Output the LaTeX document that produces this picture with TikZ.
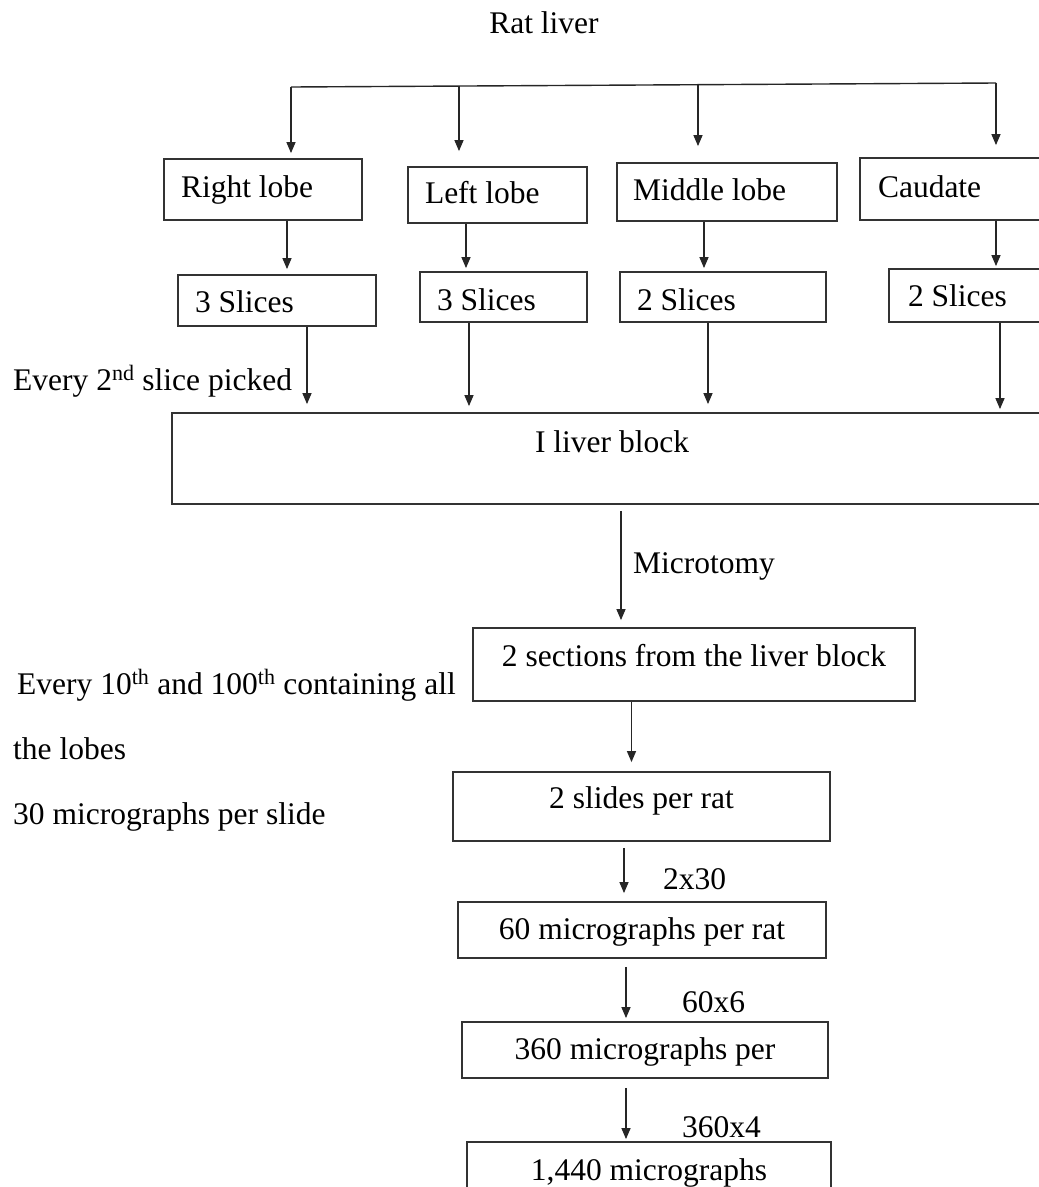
\documentclass[tikz,border=0pt]{standalone}
\usepackage{fontspec}
\setmainfont{Liberation Serif}
\usetikzlibrary{arrows.meta}
\tikzset{
  txt/.style={font=\fontsize{31.5}{36}\selectfont},
  box/.style={txt, draw=black!80, line width=1.8pt, inner xsep=0pt, inner ysep=0pt},
  lbox/.style={box, align=flush left},
  cbox/.style={box, align=center},
  lab/.style={txt, inner sep=0pt},
  ln/.style={draw=black!85, line width=1.4pt},
  arr/.style={ln, -{Triangle[length=11pt,width=9pt]}}
}
\begin{document}
\begin{tikzpicture}[x=1pt,y=-1pt]
\useasboundingbox (0,0) rectangle (1039,1187);
\clip (0,0) rectangle (1039,1187);

% title
\node[lab, anchor=base] (rat) at (544,33) {Rat liver};

% lobes
\node[lbox, text width=164pt, inner xsep=17pt, text height=38pt, text depth=23pt] (rl) at (263,189.5) {Right lobe};
\node[lbox, text width=145pt, inner xsep=17pt, text height=36pt, text depth=20pt] (ll) at (497.5,195) {Left lobe};
\node[lbox, text width=188pt, inner xsep=16pt, text height=37pt, text depth=21pt] (ml) at (727,192) {Middle lobe};
\node[lbox, text width=164pt, inner xsep=18pt, text height=39pt, text depth=23pt] (cd) at (960,189) {Caudate};

% slices
\node[lbox, text width=164pt, inner xsep=17pt, text height=37pt, text depth=14pt] (s1) at (277,300.5) {3 Slices};
\node[lbox, text width=133pt, inner xsep=17pt, text height=38pt, text depth=12pt] (s2) at (503.5,297) {3 Slices};
\node[lbox, text width=172pt, inner xsep=17pt, text height=38pt, text depth=12pt] (s3) at (723,297) {2 Slices};
\node[lbox, text width=162pt, inner xsep=19pt, text height=37pt, text depth=16pt] (s4) at (989,295.5) {2 Slices};

% block and chain
\node[cbox, minimum width=880pt, text height=39pt, text depth=52pt] (blk) at (612,458.5) {I liver block};
\node[cbox, minimum width=442pt, text height=38pt, text depth=35pt] (sec) at (694,664.5) {2 sections from the liver block};
\node[cbox, minimum width=377pt, text height=36pt, text depth=33pt] (sld) at (641.5,806.5) {2 slides per rat};
\node[cbox, minimum width=368pt, text height=37pt, text depth=19pt] (m60) at (642,930) {60 micrographs per rat};
\node[cbox, minimum width=366pt, text height=37pt, text depth=19pt] (m360) at (645,1050) {360 micrographs per};
\node[cbox, minimum width=364pt, text height=38pt, text depth=20pt] (m1440) at (649,1171) {1,440 micrographs};

% side labels
\node[lab, anchor=base west] (ev2) at (13,390) {Every 2\textsuperscript{nd} slice picked};
\node[lab, anchor=base west] (mic) at (633,573) {Microtomy};
\node[lab, anchor=base west] (ev10) at (17,694) {Every 10\textsuperscript{th} and 100\textsuperscript{th} containing all};
\node[lab, anchor=base west] (lobes) at (13,759) {the lobes};
\node[lab, anchor=base west] (per) at (13,824) {30 micrographs per slide};
\node[lab, anchor=base west] (f1) at (663,889) {2x30};
\node[lab, anchor=base west] (f2) at (682,1012) {60x6};
\node[lab, anchor=base west] (f3) at (682,1137) {360x4};

% top bar
\coordinate (t1) at (291,87);
\coordinate (t2) at (459,86);
\coordinate (t3) at (698,84.7);
\coordinate (t4) at (996,83);
\draw[ln] (t1) -- (t4);
\draw[arr, shorten >=5pt] (t1) -- (t1 |- rl.north);
\draw[arr, shorten >=15pt] (t2) -- (t2 |- ll.north);
\draw[arr, shorten >=16pt] (t3) -- (t3 |- ml.north);
\draw[arr, shorten >=12pt] (t4) -- (t4 |- cd.north);

% lobe -> slices
\coordinate (c1) at (287,0);
\coordinate (c2) at (466,0);
\coordinate (c3) at (704,0);
\coordinate (c4) at (996,0);
\draw[arr, shorten >=5pt] (c1 |- rl.south) -- (c1 |- s1.north);
\draw[arr, shorten >=3pt] (c2 |- ll.south) -- (c2 |- s2.north);
\draw[arr, shorten >=3pt] (c3 |- ml.south) -- (c3 |- s3.north);
\draw[arr, shorten >=2pt] (c4 |- cd.south) -- (c4 |- s4.north);

% slices -> block
\coordinate (d1) at (307,0);
\coordinate (d2) at (469,0);
\coordinate (d3) at (708,0);
\coordinate (d4) at (1000,0);
\draw[arr, shorten >=8pt] (d1 |- s1.south) -- (d1 |- blk.north);
\draw[arr, shorten >=6pt] (d2 |- s2.south) -- (d2 |- blk.north);
\draw[arr, shorten >=8pt] (d3 |- s3.south) -- (d3 |- blk.north);
\draw[arr, shorten >=3pt] (d4 |- s4.south) -- (d4 |- blk.north);

% chain arrows
\coordinate (e1) at (621,0);
\coordinate (e2) at (631.5,0);
\coordinate (e3) at (624,0);
\coordinate (e4) at (626,0);
\draw[arr, shorten <=6pt, shorten >=7pt] (e1 |- blk.south) -- (e1 |- sec.north);
\draw[arr, shorten >=9pt] (e2 |- sec.south) -- (e2 |- sld.north);
\draw[arr, shorten <=6pt, shorten >=8pt] (e3 |- sld.south) -- (e3 |- m60.north);
\draw[arr, shorten <=8pt, shorten >=3pt] (e4 |- m60.south) -- (e4 |- m360.north);
\draw[arr, shorten <=9pt, shorten >=2pt] (e4 |- m360.south) -- (e4 |- m1440.north);
\end{tikzpicture}
\end{document}
